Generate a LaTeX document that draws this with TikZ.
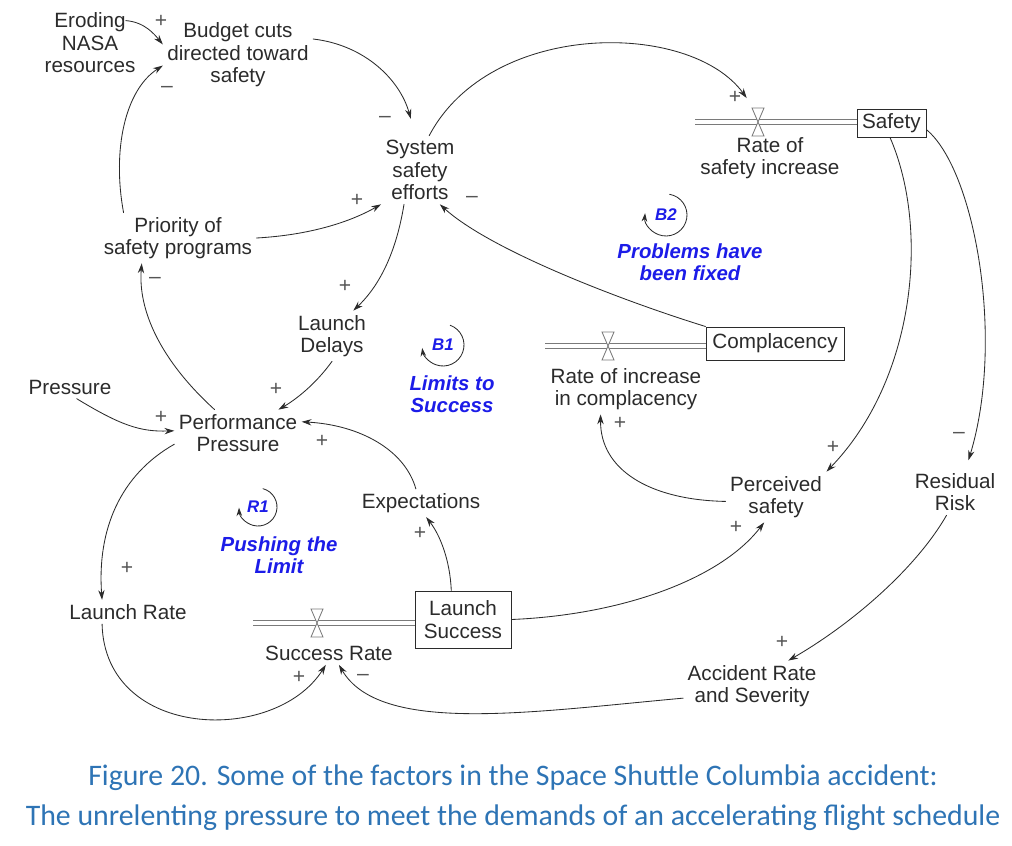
\documentclass[tikz,border=0pt]{standalone}
\usepackage{fontspec}
\setmainfont{Liberation Sans}
\newfontfamily\capfont{Carlito}
\usetikzlibrary{arrows.meta,calc}
\definecolor{ink}{HTML}{2B2B2B}
\definecolor{loopblue}{HTML}{1C1CE8}
\definecolor{capblue}{HTML}{2E74B5}
\definecolor{pipegray}{HTML}{7A7A7A}
\tikzset{
  var/.style={align=center,inner sep=3pt,text=ink,font=\fontsize{14.7}{16}\selectfont},
  stock/.style={var,draw=ink,line width=0.7pt},
  link/.style={ink,line width=0.6pt,-{Stealth[length=7pt,width=4.5pt]}},
  sign/.style={text=ink!80,inner sep=0pt,font=\fontsize{15}{15}\selectfont},
  pipe/.style={pipegray,line width=0.9pt,line cap=butt,double=white,double distance=2.6pt},
  loopname/.style={align=center,text=loopblue,font=\fontsize{14.5}{16}\selectfont\bfseries\itshape},
  looptag/.style={text=loopblue,inner sep=0pt,font=\fontsize{12}{12}\selectfont\bfseries\itshape},
  looparc/.style={ink,line width=0.6pt,-{Stealth[length=6pt,width=4pt]}},
  valve/.pic={\draw[pipegray,line width=0.6pt,fill=white] (-6,-14) -- (6,-14) -- (-6,14) -- (6,14) -- cycle;}
}
\begin{document}
\begin{tikzpicture}[x=0.025cm,y=-0.025cm,line cap=round]
  \useasboundingbox (0,0) rectangle (1012,846);
  % --- stocks and flows ---
  \node[stock,minimum width=1.725cm,minimum height=0.7cm] (safety) at (891.5,123.5) {Safety};
  \node[stock,minimum width=3.45cm,minimum height=0.825cm] (complacency) at (775,343.5) {Complacency};
  \node[stock,minimum width=2.4cm,minimum height=1.425cm] (launchSucc) at (463,619.5) {Launch\\Success};
  \coordinate (pS) at (695,122);
  \coordinate (pC) at (545,346);
  \coordinate (pR) at (253,623);
  \draw[pipe] (pS) -- (pS -| safety.west);
  \draw[pipe] (pC) -- (pC -| complacency.west);
  \draw[pipe] (pR) -- (pR -| launchSucc.west);
  \coordinate (vS) at (758,122);
  \coordinate (vC) at (608,346);
  \coordinate (vR) at (317,623);
  \pic at (vS) {valve};
  \pic at (vC) {valve};
  \pic at (vR) {valve};
  \node[var] (rateSafety) at (770,158) {Rate of\\safety increase};
  \node[var] (rateComp) at (626,389) {Rate of increase\\in complacency};
  \node[var] (succRate) at (329,653) {Success Rate};
  % --- variables ---
  \node[var] (erode) at (90,43) {Eroding\\NASA\\resources};
  \node[var] (budget) at (238,55) {Budget cuts\\directed toward\\safety};
  \node[var] (sysSafety) at (420,170) {System\\safety\\efforts};
  \node[var] (priority) at (178,238) {Priority of\\safety programs};
  \node[var] (delays) at (332,336) {Launch\\Delays};
  \node[var] (pressure) at (70,387) {Pressure};
  \node[var] (perfPress) at (238,433) {Performance\\Pressure};
  \node[var] (expect) at (421,503) {Expectations};
  \node[var] (launchRate) at (128,612) {Launch Rate};
  \node[var] (perceived) at (776,497) {Perceived\\safety};
  \node[var] (resid) at (955,492) {Residual\\Risk};
  \node[var] (accident) at (752,686) {Accident Rate\\and Severity};
  % --- causal links ---
  \draw[link] ([xshift=-10pt,yshift=3pt]erode.20) .. controls (145,22) and (155,35) .. (budget.172);
  \draw[link] (priority.155) .. controls (112,150) and (125,90) .. (budget.188);
  \draw[link] (budget.12) .. controls (365,45) and (400,80) .. ([yshift=12pt]sysSafety.105);
  \draw[link] (sysSafety.75) .. controls (490,20) and (690,20) .. ([xshift=-8pt,yshift=17pt]vS);
  \draw[link] (priority.east) .. controls (310,235) and (350,222) .. (sysSafety.south west);
  \draw[link] (complacency.north west) .. controls (620,300) and (490,250) .. (sysSafety.-60);
  \draw[link] (sysSafety.-115) .. controls (395,260) and (375,290) .. (delays.50);
  \draw[link] (perfPress.135) .. controls (160,360) and (138,310) .. (priority.-145);
  \draw[link] (delays.south) .. controls (315,385) and (295,400) .. (perfPress.30);
  \draw[link] (pressure.-60) .. controls (120,425) and (140,432) .. (perfPress.178);
  \draw[link] (expect.110) .. controls (405,450) and (360,425) .. (perfPress.10);
  \draw[link] (perfPress.190) .. controls (120,475) and (97,530) .. (launchRate.155);
  \draw[link] (launchSucc.112) .. controls (450,560) and (440,535) .. (expect.-70);
  \draw[link] (launchRate.-155) .. controls (105,740) and (275,745) .. (succRate.-105);
  \draw[link] (accident.-170) .. controls (530,712) and (380,735) .. (succRate.-50);
  \draw[link] (launchSucc.east) .. controls (620,615) and (720,580) .. (perceived.-115);
  \draw[link] (perceived.185) .. controls (650,500) and (600,470) .. (rateComp.-135);
  \draw[link] (safety.-95) .. controls (930,230) and (915,380) .. (perceived.north east);
  \draw[link] (safety.-10) .. controls (975,170) and (1005,340) .. ([yshift=6pt]resid.60);
  \draw[link] (resid.-110) .. controls (915,570) and (850,625) .. (accident.35);
  % --- polarities ---
  \node[sign] (s1) at (161,21) {+};
  \node[sign] (s2) at (167,89) {–};
  \node[sign] (s3) at (385,119) {–};
  \node[sign] (s4) at (735,97) {+};
  \node[sign] (s5) at (357,200) {+};
  \node[sign] (s6) at (472,199) {–};
  \node[sign] (s7) at (345,286) {+};
  \node[sign] (s8) at (155,280) {–};
  \node[sign] (s9) at (276,389) {+};
  \node[sign] (s10) at (161,417) {+};
  \node[sign] (s11) at (322,441) {+};
  \node[sign] (s12) at (127,568) {+};
  \node[sign] (s13) at (420,533) {+};
  \node[sign] (s14) at (620,423) {+};
  \node[sign] (s15) at (833,447) {+};
  \node[sign] (s16) at (959,435) {–};
  \node[sign] (s17) at (736,527) {+};
  \node[sign] (s18) at (782,642) {+};
  \node[sign] (s19) at (299,677) {+};
  \node[sign] (s20) at (363,677) {–};
  % --- loops ---
  \node[looptag] (b1) at (443,345) {B1};
  \draw[looparc] ([shift={(-70:21)}]b1.center) arc (-70:172:21);
  \node[loopname] (b1name) at (452,394) {Limits to\\Success};
  \node[looptag] (b2) at (666,215) {B2};
  \draw[looparc] ([shift={(-80:21)}]b2.center) arc (-80:185:21);
  \node[loopname] (b2name) at (690,262) {Problems have\\been fixed};
  \node[looptag] (r1) at (258,507) {R1};
  \draw[looparc] ([shift={(-75:19)}]r1.center) arc (-75:178:19);
  \node[loopname] (r1name) at (279,555) {Pushing the\\Limit};
  % --- caption ---
  \node[align=center,text=capblue,font=\capfont\fontsize{21.2}{28.4}\selectfont] (caption) at (513,798)
    {Figure 20. Some of the factors in the Space Shuttle Columbia accident:\\
     The unrelenting pressure to meet the demands of an accelerating flight schedule};
\end{tikzpicture}
\end{document}
